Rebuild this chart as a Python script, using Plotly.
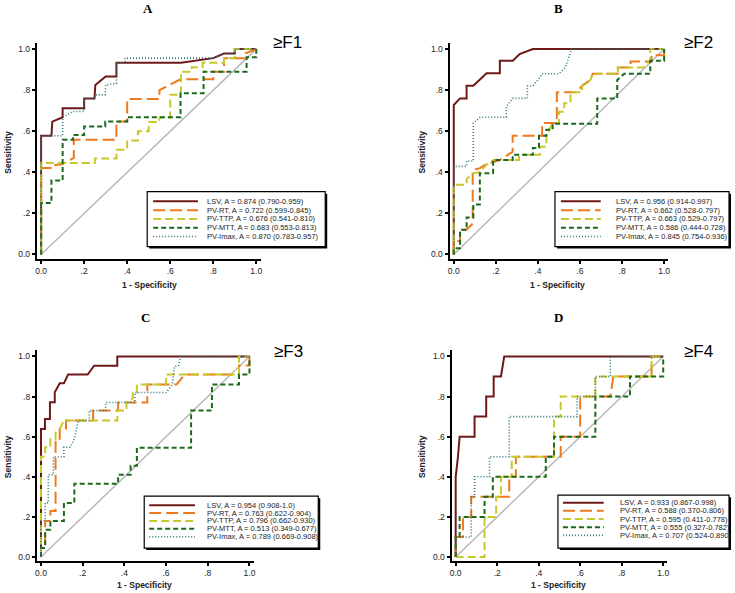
import plotly.graph_objects as go

W, H = 735, 593

panel_letters = ["A", "B", "C", "D"]
stage_labels = ["≥F1", "≥F2", "≥F3", "≥F4"]
series_names = ["LSV", "PV-RT", "PV-TTP", "PV-MTT", "PV-Imax"]
tick_vals = [0, 0.2, 0.4, 0.6, 0.8, 1.0]
tick_text = ["0.0", ".2", ".4", ".6", ".8", "1.0"]
diag_x = [0, 1]
diag_y = [0, 1]

# AUC and 95% CI per panel (order: LSV, PV-RT, PV-TTP, PV-MTT, PV-Imax)
auc_A = [0.874, 0.722, 0.676, 0.683, 0.870]
ci_A = ["0.790-0.959", "0.599-0.845", "0.541-0.810", "0.553-0.813", "0.783-0.957"]
auc_B = [0.956, 0.662, 0.663, 0.586, 0.845]
ci_B = ["0.914-0.997", "0.528-0.797", "0.529-0.797", "0.444-0.728", "0.754-0.936"]
auc_C = [0.954, 0.763, 0.796, 0.513, 0.789]
ci_C = ["0.908-1.0", "0.622-0.904", "0.662-0.930", "0.349-0.677", "0.669-0.908"]
auc_D = [0.933, 0.588, 0.595, 0.555, 0.707]
ci_D = ["0.867-0.998", "0.370-0.806", "0.411-0.778", "0.327-0.782", "0.524-0.890"]

# ---------- Panel A (>=F1) ----------
lsv_A_fpr = [0, 0, 0.048, 0.052, 0.1, 0.1, 0.2, 0.2, 0.248, 0.252, 0.3, 0.35, 0.35, 0.65, 0.8, 0.85, 0.9, 0.9, 1]
lsv_A_tpr = [0, 0.578, 0.578, 0.647, 0.668, 0.712, 0.712, 0.759, 0.759, 0.825, 0.867, 0.867, 0.933, 0.933, 0.956, 0.978, 0.978, 1, 1]
rt_A_fpr = [0, 0, 0.05, 0.05, 0.1, 0.152, 0.152, 0.35, 0.35, 0.4, 0.4, 0.55, 0.55, 0.648, 0.8, 0.8, 0.85, 0.85, 0.95, 0.95, 1]
rt_A_tpr = [0, 0.421, 0.421, 0.432, 0.44, 0.47, 0.558, 0.558, 0.647, 0.647, 0.757, 0.757, 0.8, 0.853, 0.853, 0.89, 0.89, 0.956, 0.956, 0.98, 1]
ttp_A_fpr = [0, 0, 0.25, 0.25, 0.35, 0.35, 0.4, 0.4, 0.45, 0.45, 0.5, 0.5, 0.55, 0.55, 0.6, 0.6, 0.65, 0.65, 0.7, 0.7, 0.75, 0.75, 0.85, 0.85, 0.9, 0.9, 1]
ttp_A_tpr = [0, 0.445, 0.445, 0.467, 0.467, 0.51, 0.51, 0.555, 0.555, 0.6, 0.6, 0.645, 0.645, 0.667, 0.667, 0.778, 0.778, 0.89, 0.89, 0.911, 0.911, 0.933, 0.933, 0.956, 0.956, 1, 1]
mtt_A_fpr = [0, 0, 0.048, 0.048, 0.1, 0.1, 0.148, 0.148, 0.2, 0.2, 0.298, 0.298, 0.4, 0.4, 0.648, 0.648, 0.755, 0.755, 0.955, 0.955, 1, 1]
mtt_A_tpr = [0, 0.25, 0.25, 0.36, 0.36, 0.558, 0.558, 0.582, 0.582, 0.623, 0.623, 0.647, 0.647, 0.668, 0.668, 0.785, 0.785, 0.89, 0.89, 0.96, 0.96, 1]
imax_A_fpr = [0, 0, 0.1, 0.1, 0.148, 0.2, 0.2, 0.25, 0.25, 0.298, 0.3, 0.35, 0.35, 0.39, 0.39, 0.8, 0.85, 0.9, 0.9, 1]
imax_A_tpr = [0, 0.578, 0.578, 0.668, 0.696, 0.696, 0.759, 0.759, 0.777, 0.777, 0.825, 0.833, 0.933, 0.933, 0.956, 0.956, 0.978, 0.978, 1, 1]

# ---------- Panel B (>=F2) ----------
lsv_B_fpr = [0, 0, 0.03, 0.061, 0.061, 0.093, 0.156, 0.219, 0.219, 0.281, 0.313, 0.376, 1]
lsv_B_tpr = [0, 0.728, 0.76, 0.76, 0.822, 0.822, 0.882, 0.882, 0.943, 0.943, 0.976, 1, 1]
rt_B_fpr = [0, 0, 0.03, 0.03, 0.06, 0.09, 0.09, 0.125, 0.155, 0.22, 0.25, 0.28, 0.28, 0.42, 0.42, 0.49, 0.49, 0.58, 0.61, 0.65, 0.66, 0.78, 0.78, 0.84, 0.84, 0.94, 0.94, 1, 1]
rt_B_tpr = [0, 0.065, 0.065, 0.12, 0.12, 0.15, 0.41, 0.42, 0.44, 0.46, 0.48, 0.5, 0.578, 0.578, 0.64, 0.64, 0.79, 0.79, 0.82, 0.85, 0.88, 0.88, 0.91, 0.91, 0.94, 0.94, 0.97, 0.97, 1]
ttp_B_fpr = [0, 0, 0.061, 0.061, 0.093, 0.125, 0.155, 0.19, 0.31, 0.31, 0.41, 0.41, 0.44, 0.44, 0.47, 0.5, 0.5, 0.525, 0.525, 0.555, 0.555, 0.61, 0.61, 0.65, 0.66, 0.78, 0.78, 0.9, 0.934, 0.934, 1]
ttp_B_tpr = [0, 0.34, 0.34, 0.367, 0.396, 0.4, 0.437, 0.46, 0.46, 0.485, 0.485, 0.525, 0.525, 0.578, 0.64, 0.64, 0.695, 0.695, 0.736, 0.736, 0.79, 0.79, 0.825, 0.85, 0.88, 0.88, 0.91, 0.91, 0.94, 1, 1]
mtt_B_fpr = [0, 0, 0.03, 0.03, 0.061, 0.061, 0.093, 0.093, 0.124, 0.124, 0.187, 0.187, 0.28, 0.28, 0.376, 0.376, 0.405, 0.405, 0.44, 0.44, 0.47, 0.47, 0.682, 0.682, 0.777, 0.777, 0.81, 0.934, 0.934, 1, 1]
mtt_B_tpr = [0, 0.03, 0.03, 0.12, 0.12, 0.18, 0.18, 0.243, 0.243, 0.396, 0.396, 0.46, 0.46, 0.485, 0.485, 0.518, 0.518, 0.578, 0.578, 0.607, 0.607, 0.636, 0.636, 0.76, 0.76, 0.85, 0.88, 0.88, 0.943, 0.943, 1]
imax_B_fpr = [0, 0, 0.061, 0.061, 0.093, 0.093, 0.125, 0.25, 0.25, 0.28, 0.35, 0.35, 0.375, 0.4, 0.42, 0.5, 0.53, 0.55, 0.56, 1]
imax_B_tpr = [0, 0.429, 0.429, 0.455, 0.455, 0.639, 0.668, 0.668, 0.72, 0.76, 0.76, 0.82, 0.82, 0.85, 0.88, 0.88, 0.91, 0.97, 1, 1]

# ---------- Panel C (>=F3) ----------
lsv_C_fpr = [0, 0, 0.019, 0.019, 0.043, 0.043, 0.066, 0.066, 0.09, 0.11, 0.13, 0.224, 0.255, 0.366, 0.366, 1]
lsv_C_tpr = [0, 0.638, 0.638, 0.688, 0.688, 0.771, 0.771, 0.821, 0.866, 0.866, 0.91, 0.91, 0.954, 0.954, 1, 1]
rt_C_fpr = [0, 0, 0.02, 0.02, 0.045, 0.045, 0.07, 0.07, 0.09, 0.09, 0.12, 0.12, 0.25, 0.25, 0.37, 0.37, 0.51, 0.51, 0.65, 0.69, 0.95, 0.95, 1, 1]
rt_C_tpr = [0, 0.045, 0.045, 0.18, 0.18, 0.23, 0.23, 0.59, 0.59, 0.638, 0.638, 0.68, 0.68, 0.73, 0.73, 0.77, 0.77, 0.86, 0.86, 0.91, 0.91, 0.955, 0.955, 1]
ttp_C_fpr = [0, 0, 0.02, 0.02, 0.045, 0.045, 0.07, 0.07, 0.09, 0.11, 0.366, 0.366, 0.41, 0.41, 0.44, 0.44, 0.46, 0.46, 0.6, 0.6, 0.95, 0.95, 1]
ttp_C_tpr = [0, 0.5, 0.5, 0.547, 0.547, 0.59, 0.59, 0.62, 0.638, 0.68, 0.68, 0.73, 0.73, 0.77, 0.79, 0.82, 0.82, 0.86, 0.86, 0.91, 0.91, 1, 1]
mtt_C_fpr = [0, 0, 0.02, 0.02, 0.045, 0.045, 0.11, 0.11, 0.16, 0.16, 0.37, 0.37, 0.43, 0.43, 0.46, 0.46, 0.72, 0.72, 0.82, 0.82, 0.95, 0.95, 1, 1]
mtt_C_tpr = [0, 0.045, 0.045, 0.136, 0.136, 0.18, 0.18, 0.27, 0.27, 0.365, 0.365, 0.41, 0.41, 0.455, 0.455, 0.545, 0.545, 0.73, 0.73, 0.86, 0.86, 0.91, 0.91, 1]
imax_C_fpr = [0, 0, 0.02, 0.02, 0.035, 0.035, 0.06, 0.06, 0.11, 0.11, 0.14, 0.16, 0.18, 0.232, 0.232, 0.31, 0.31, 0.45, 0.45, 0.6, 0.63, 0.64, 0.66, 0.67, 1]
imax_C_tpr = [0, 0.18, 0.18, 0.27, 0.27, 0.41, 0.41, 0.5, 0.5, 0.547, 0.547, 0.59, 0.68, 0.68, 0.73, 0.73, 0.77, 0.77, 0.82, 0.82, 0.86, 0.95, 0.955, 1, 1]

# ---------- Panel D (>=F4) ----------
lsv_D_fpr = [0, 0, 0.011, 0.019, 0.091, 0.091, 0.147, 0.147, 0.183, 0.183, 0.218, 0.234, 1]
lsv_D_tpr = [0, 0.4, 0.5, 0.6, 0.6, 0.7, 0.7, 0.8, 0.8, 0.9, 0.9, 1, 1]
rt_D_fpr = [0, 0, 0.035, 0.035, 0.075, 0.075, 0.258, 0.258, 0.29, 0.29, 0.506, 0.506, 0.6, 0.6, 0.745, 0.76, 0.944, 0.944, 1]
rt_D_tpr = [0, 0.1, 0.1, 0.2, 0.2, 0.3, 0.3, 0.4, 0.4, 0.5, 0.5, 0.6, 0.6, 0.8, 0.8, 0.9, 0.9, 1, 1]
ttp_D_fpr = [0, 0.139, 0.139, 0.195, 0.195, 0.218, 0.218, 0.27, 0.27, 0.474, 0.474, 0.506, 0.506, 0.673, 0.673, 0.944, 0.944, 1]
ttp_D_tpr = [0, 0, 0.2, 0.2, 0.3, 0.3, 0.4, 0.4, 0.5, 0.5, 0.7, 0.7, 0.8, 0.8, 0.9, 0.9, 1, 1]
mtt_D_fpr = [0, 0, 0.019, 0.019, 0.139, 0.139, 0.179, 0.179, 0.434, 0.434, 0.474, 0.474, 0.673, 0.673, 0.84, 0.84, 1, 1]
mtt_D_tpr = [0, 0.1, 0.1, 0.2, 0.2, 0.3, 0.3, 0.4, 0.4, 0.5, 0.5, 0.6, 0.6, 0.8, 0.8, 0.9, 0.9, 1]
imax_D_fpr = [0, 0, 0.075, 0.075, 0.091, 0.091, 0.163, 0.163, 0.258, 0.258, 0.585, 0.585, 0.673, 0.673, 0.745, 0.745, 1]
imax_D_tpr = [0, 0.1, 0.1, 0.3, 0.3, 0.4, 0.4, 0.5, 0.5, 0.7, 0.7, 0.8, 0.8, 0.9, 0.9, 1, 1]

curves = {
    "A": [(lsv_A_fpr, lsv_A_tpr), (rt_A_fpr, rt_A_tpr), (ttp_A_fpr, ttp_A_tpr), (mtt_A_fpr, mtt_A_tpr), (imax_A_fpr, imax_A_tpr)],
    "B": [(lsv_B_fpr, lsv_B_tpr), (rt_B_fpr, rt_B_tpr), (ttp_B_fpr, ttp_B_tpr), (mtt_B_fpr, mtt_B_tpr), (imax_B_fpr, imax_B_tpr)],
    "C": [(lsv_C_fpr, lsv_C_tpr), (rt_C_fpr, rt_C_tpr), (ttp_C_fpr, ttp_C_tpr), (mtt_C_fpr, mtt_C_tpr), (imax_C_fpr, imax_C_tpr)],
    "D": [(lsv_D_fpr, lsv_D_tpr), (rt_D_fpr, rt_D_tpr), (ttp_D_fpr, ttp_D_tpr), (mtt_D_fpr, mtt_D_tpr), (imax_D_fpr, imax_D_tpr)],
}
aucs = {"A": (auc_A, ci_A), "B": (auc_B, ci_B), "C": (auc_C, ci_C), "D": (auc_D, ci_D)}

# ---------- styles ----------
colors = ["#6E1818", "#EE7A1E", "#C8C82A", "#1C6A1C", "#2F7878"]
dashes = ["solid", "12px,5px", "8px,4px", "5px,3px", "1px,2px"]
widths = [2.0, 2.0, 2.0, 2.0, 1.6]

FONT = "Liberation Sans, Arial, sans-serif"


def px_x(v):
    return v / W


def px_y(v):
    return 1 - v / H


# pixel layout of each panel: axes box (left, right, top, bottom)
panel_box = {
    "A": (35, 260, 43, 259),
    "B": (450, 670, 43, 259),
    "C": (35, 253, 351, 562),
    "D": (452, 669, 351, 562),
}
title_pos = {"A": (147, 9), "B": (560, 9), "C": (144, 318), "D": (560, 318)}
stage_pos = {"A": (287, 43), "B": (700, 43), "C": (288, 352), "D": (700, 352)}
ylab_pos = {"A": (6, 152), "B": (422, 152), "C": (6, 457), "D": (423, 457)}
xlab_pos = {"A": (148, 285), "B": (559, 285), "C": (143, 586), "D": (560, 586)}
# legend box (x0, y0, x1, y1), line x0, line x1, text x, first row offset, row step
legend_box = {
    "A": (146, 192, 325, 247, 152, 197, 204, 9.7, 8.8),
    "B": (556, 192, 731, 247, 562, 602, 615, 9.7, 8.8),
    "C": (143, 497, 318, 549, 148, 194, 204, 9.0, 7.9),
    "D": (559, 496, 731, 549, 564, 605, 619, 7.5, 8.2),
}

fig = go.Figure()
layout = dict(
    width=W, height=H,
    margin=dict(l=0, r=0, t=0, b=0),
    paper_bgcolor="white", plot_bgcolor="white",
    showlegend=False,
)
shapes = []
annotations = []

for i, p in enumerate(panel_letters):
    ax = "" if i == 0 else str(i + 1)
    xa, ya = "x" + ax, "y" + ax
    # reference diagonal
    fig.add_trace(go.Scatter(x=diag_x, y=diag_y, mode="lines", xaxis=xa, yaxis=ya,
                             line=dict(color="#B8B8B8", width=1.5), hoverinfo="skip"))
    for k, (fx, ty) in enumerate(curves[p]):
        fig.add_trace(go.Scatter(x=fx, y=ty, mode="lines", xaxis=xa, yaxis=ya,
                                 name=series_names[k],
                                 line=dict(color=colors[k], width=widths[k], dash=dashes[k])))
    l, r, t, b = panel_box[p]
    axis_common = dict(showgrid=False, zeroline=False, showline=True, linecolor="black",
                       linewidth=2, ticks="outside", ticklen=3, tickwidth=1.5, tickcolor="black",
                       tickvals=tick_vals, ticktext=tick_text,
                       tickfont=dict(family=FONT, size=8.5, color="#222"))
    layout["xaxis" + ax] = dict(axis_common, domain=[px_x(l), px_x(r)], range=[-0.02, 1.02],
                                anchor=ya)
    layout["yaxis" + ax] = dict(axis_common, domain=[px_y(b), px_y(t)], range=[-0.02, 1.03],
                                anchor=xa)

    # panel letter
    tx, tyy = title_pos[p]
    annotations.append(dict(text="<b>%s</b>" % p, x=px_x(tx), y=px_y(tyy), xref="paper", yref="paper",
                            showarrow=False, xanchor="center", yanchor="middle",
                            font=dict(family="Liberation Serif, Times New Roman, serif", size=13, color="black")))
    sx, sy = stage_pos[p]
    annotations.append(dict(text=stage_labels[i], x=px_x(sx), y=px_y(sy), xref="paper", yref="paper",
                            showarrow=False, xanchor="center", yanchor="middle",
                            font=dict(family=FONT, size=17, color="black")))
    yx, yy = ylab_pos[p]
    annotations.append(dict(text="<b>Sensitivity</b>", x=px_x(yx), y=px_y(yy), xref="paper", yref="paper",
                            showarrow=False, xanchor="center", yanchor="middle", textangle=-90,
                            font=dict(family=FONT, size=8.5, color="#222")))
    xx, xy = xlab_pos[p]
    annotations.append(dict(text="<b>1 - Specificity</b>", x=px_x(xx), y=px_y(xy), xref="paper", yref="paper",
                            showarrow=False, xanchor="center", yanchor="middle",
                            font=dict(family=FONT, size=8.5, color="#222")))

    # custom legend box
    x0, y0, x1, y1, lx0, lx1, txx, off, step = legend_box[p]
    shapes.append(dict(type="rect", xref="paper", yref="paper", layer="above",
                       x0=px_x(x0 + 2), x1=px_x(x1 + 2), y0=px_y(y0 + 2), y1=px_y(y1 + 2),
                       fillcolor="black", line=dict(width=0)))
    shapes.append(dict(type="rect", xref="paper", yref="paper", layer="above",
                       x0=px_x(x0), x1=px_x(x1), y0=px_y(y0), y1=px_y(y1),
                       fillcolor="white", line=dict(color="black", width=1.2)))
    auc_vals, ci_vals = aucs[p]
    for k in range(5):
        ry = y0 + off + step * k
        shapes.append(dict(type="line", xref="paper", yref="paper", layer="above",
                           x0=px_x(lx0), x1=px_x(lx1), y0=px_y(ry), y1=px_y(ry),
                           line=dict(color=colors[k], width=widths[k], dash=dashes[k])))
        label = "%s, A = %.3f (%s)" % (series_names[k], auc_vals[k], ci_vals[k])
        annotations.append(dict(text=label, x=px_x(txx), y=px_y(ry), xref="paper", yref="paper",
                                showarrow=False, xanchor="left", yanchor="middle",
                                font=dict(family=FONT, size=7.5, color="#222")))

layout["shapes"] = shapes
layout["annotations"] = annotations
fig.update_layout(**layout)
fig.write_html("out.html", config={"displayModeBar": False},
               post_script="document.body.style.margin='0';document.body.style.overflow='hidden';")
